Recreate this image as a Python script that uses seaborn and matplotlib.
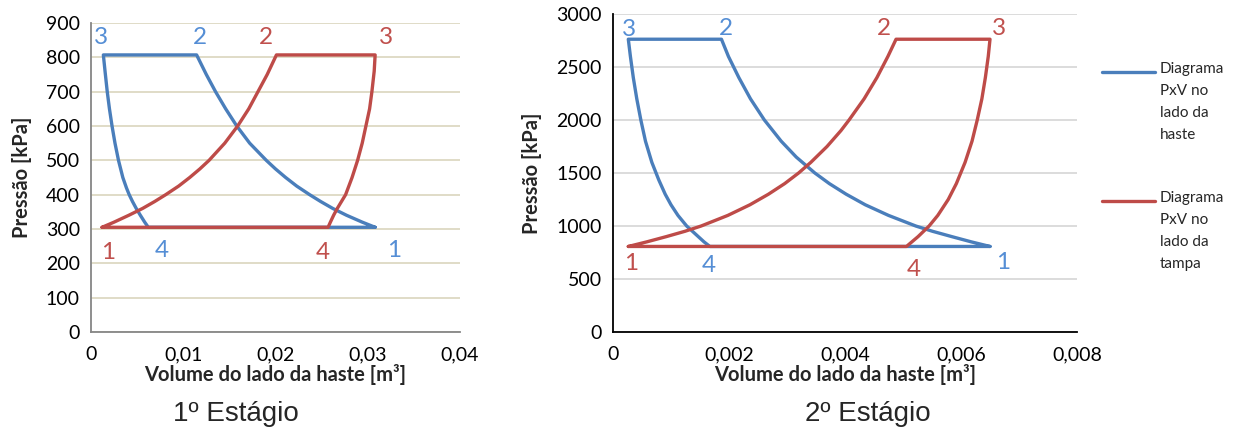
import matplotlib
matplotlib.use("Agg")
import matplotlib.pyplot as plt
import seaborn as sns
import pandas as pd
from matplotlib.lines import Line2D

# ---------------- data ----------------
# 1º Estágio - rod side (blue): compression 1->2 and expansion 3->4
s1_rod_comp_v = [0.0308, 0.0294, 0.0277, 0.0262, 0.0249, 0.0237, 0.0223, 0.0211,
                 0.0200, 0.0190, 0.0172, 0.0158, 0.0146, 0.0135, 0.0125, 0.01145]
s1_rod_comp_p = [305, 320, 340, 360, 380, 400, 425, 450, 475, 500, 550, 600, 650,
                 700, 750, 807]
s1_rod_exp_v = [0.00134, 0.00152, 0.00176, 0.00200, 0.00228, 0.00260, 0.00298,
                0.00345, 0.00384, 0.00414, 0.00450, 0.00490, 0.00535, 0.00582, 0.00621]
s1_rod_exp_p = [807, 760, 700, 650, 600, 550, 500, 450, 420, 400, 380, 360, 340,
                320, 305]
# 1º Estágio - cap side (red)
s1_cap_comp_v = [0.0012, 0.0025, 0.0041, 0.0056, 0.0069, 0.0081, 0.0095, 0.0107,
                 0.0118, 0.0128, 0.0145, 0.0159, 0.0171, 0.0181, 0.0191, 0.0201]
s1_cap_comp_p = [305, 320, 340, 360, 380, 400, 425, 450, 475, 500, 550, 600, 650,
                 700, 750, 807]
s1_cap_exp_v = [0.0308, 0.0307, 0.03045, 0.0302, 0.0298, 0.0294, 0.0289, 0.0283,
                0.0276, 0.02715, 0.0267, 0.0263, 0.02595, 0.0257]
s1_cap_exp_p = [807, 760, 700, 650, 600, 550, 500, 450, 400, 380, 360, 340, 320, 305]

# 2º Estágio - rod side (blue)
s2_rod_comp_v = [0.0065, 0.00618, 0.00584, 0.00551, 0.00522, 0.00475, 0.00435,
                 0.00402, 0.00373, 0.00348, 0.00316, 0.00290, 0.00261, 0.00237,
                 0.00217, 0.00199, 0.00187]
s2_rod_comp_p = [807, 850, 900, 950, 1000, 1100, 1200, 1300, 1400, 1500, 1650, 1800,
                 2000, 2200, 2400, 2600, 2762]
s2_rod_exp_v = [0.000264, 0.00030, 0.00035, 0.00041, 0.00048, 0.00056, 0.00067,
                0.00079, 0.00090, 0.00100, 0.00112, 0.00127, 0.00137, 0.00147,
                0.00157, 0.00167]
s2_rod_exp_p = [2762, 2600, 2400, 2200, 2000, 1800, 1600, 1434, 1300, 1200, 1100,
                1000, 950, 900, 850, 807]
# 2º Estágio - cap side (red)
s2_cap_comp_v = [0.000264, 0.00058, 0.00092, 0.00124, 0.00152, 0.00198, 0.00236,
                 0.00268, 0.00296, 0.00320, 0.00341, 0.00369, 0.00393, 0.00407,
                 0.00433, 0.00455, 0.00474, 0.00488]
s2_cap_comp_p = [807, 850, 900, 950, 1000, 1100, 1200, 1300, 1400, 1500, 1600, 1750,
                 1900, 2000, 2200, 2400, 2600, 2762]
s2_cap_exp_v = [0.00650, 0.00647, 0.00642, 0.00636, 0.00628, 0.00619, 0.00607,
                0.00592, 0.00578, 0.00560, 0.00545, 0.00526, 0.00506]
s2_cap_exp_p = [2762, 2600, 2400, 2200, 2000, 1800, 1600, 1400, 1250, 1100, 1000,
                900, 807]

s1_xticks = [0, 0.01, 0.02, 0.03, 0.04]
s1_xlabels = ["0", "0,01", "0,02", "0,03", "0,04"]
s1_yticks = [0, 100, 200, 300, 400, 500, 600, 700, 800, 900]
s2_xticks = [0, 0.002, 0.004, 0.006, 0.008]
s2_xlabels = ["0", "0,002", "0,004", "0,006", "0,008"]
s2_yticks = [0, 500, 1000, 1500, 2000, 2500, 3000]

legend_labels = ["Diagrama\nPxV no\nlado da\nhaste", "Diagrama\nPxV no\nlado da\ntampa"]
stage_titles = ["1º Estágio", "2º Estágio"]
xlabel = "Volume do lado da haste [m³]"
ylabel = "Pressão [kPa]"

BLUE = "#4A7EBB"
RED = "#BE4B48"
BLUE_TXT = "#558ED5"
RED_TXT = "#C0504D"

sns.set_theme(style="white")
plt.rcParams['font.family'] = ['Lato', 'DejaVu Sans']

fig = plt.figure(figsize=(12.46, 4.32), dpi=100)
W, H = 1246, 432
ax1 = fig.add_axes([91 / W, 1 - 332 / H, (460 - 91) / W, (332 - 23) / H])
ax2 = fig.add_axes([613 / W, 1 - 332 / H, (1077 - 613) / W, (332 - 14) / H])


def cycle(comp_v, comp_p, exp_v, exp_p):
    v = list(comp_v) + list(exp_v) + [comp_v[0]]
    p = list(comp_p) + list(exp_p) + [comp_p[0]]
    return pd.DataFrame({"V": v, "P": p})


def draw(ax, rod, cap):
    for df, col in ((rod, BLUE), (cap, RED)):
        sns.lineplot(data=df, x="V", y="P", sort=False, estimator=None, color=col,
                     lw=2.4, ax=ax, solid_joinstyle="round", solid_capstyle="round")


draw(ax1, cycle(s1_rod_comp_v, s1_rod_comp_p, s1_rod_exp_v, s1_rod_exp_p),
     cycle(s1_cap_comp_v, s1_cap_comp_p, s1_cap_exp_v, s1_cap_exp_p))
draw(ax2, cycle(s2_rod_comp_v, s2_rod_comp_p, s2_rod_exp_v, s2_rod_exp_p),
     cycle(s2_cap_comp_v, s2_cap_comp_p, s2_cap_exp_v, s2_cap_exp_p))


def style(ax, xt, xl, yt, grid_col, spine_col):
    ax.set_xlim(xt[0], xt[-1])
    ax.set_ylim(yt[0], yt[-1])
    ax.set_xticks(xt)
    ax.set_xticklabels(xl)
    ax.set_yticks(yt)
    ax.set_yticklabels([str(t) for t in yt])
    ax.grid(axis="y", color=grid_col, lw=1.3)
    ax.grid(axis="x", visible=False)
    ax.set_axisbelow(True)
    for s in ("top", "right"):
        ax.spines[s].set_visible(False)
    for s in ("left", "bottom"):
        ax.spines[s].set_color(spine_col)
        ax.spines[s].set_linewidth(1.3)
    ax.tick_params(axis="both", direction="out", length=5, width=1.3, color=spine_col,
                   labelsize=14, labelcolor="black", pad=3)
    ax.tick_params(axis="x", pad=5)
    ax.set_xlabel(xlabel, fontsize=14.5, fontweight="bold", labelpad=1)
    ax.set_ylabel(ylabel, fontsize=14.5, fontweight="bold", labelpad=10)


style(ax1, s1_xticks, s1_xlabels, s1_yticks, "#DDD9C3", "#868686")
style(ax2, s2_xticks, s2_xlabels, s2_yticks, "#D9D9D9", "#000000")

# point labels
lab_kw = dict(fontsize=17.5, ha="center", va="center")
for ax, items in (
    (ax1, [("3", 0.00108, 859, BLUE_TXT), ("2", 0.01185, 859, BLUE_TXT),
           ("2", 0.01893, 859, RED_TXT), ("3", 0.03197, 859, RED_TXT),
           ("1", 0.00181, 231, RED_TXT), ("4", 0.00766, 236, BLUE_TXT),
           ("4", 0.02511, 231, RED_TXT), ("1", 0.03284, 236, BLUE_TXT)]),
    (ax2, [("3", 0.000284, 2856, BLUE_TXT), ("2", 0.00195, 2865, BLUE_TXT),
           ("2", 0.00467, 2865, RED_TXT), ("3", 0.00666, 2865, RED_TXT),
           ("1", 0.000304, 650, RED_TXT), ("4", 0.00165, 628, BLUE_TXT),
           ("4", 0.00518, 587, RED_TXT), ("1", 0.00672, 660, BLUE_TXT)]),
):
    for t, x, y, c in items:
        ax.text(x, y, t, color=c, clip_on=False, **lab_kw)

# stage titles
fig.text(236 / W, 1 - 414 / H, stage_titles[0], fontsize=20, ha="center", va="center",
         family=["Liberation Sans", "DejaVu Sans"])
fig.text(868 / W, 1 - 414 / H, stage_titles[1], fontsize=20, ha="center", va="center",
         family=["Liberation Sans", "DejaVu Sans"])

# legend (manual, multi-line entries with handle on first line)
for (ytop, col, lab) in ((72, BLUE, legend_labels[0]), (201, RED, legend_labels[1])):
    fig.add_artist(Line2D([1102 / W, 1155 / W], [1 - ytop / H, 1 - ytop / H],
                          color=col, lw=2.4, transform=fig.transFigure))
    fig.text(1160 / W, 1 - (ytop - 10) / H, lab, fontsize=11, ha="left", va="top",
             linespacing=1.72)

fig.savefig("out.png", dpi=100)
